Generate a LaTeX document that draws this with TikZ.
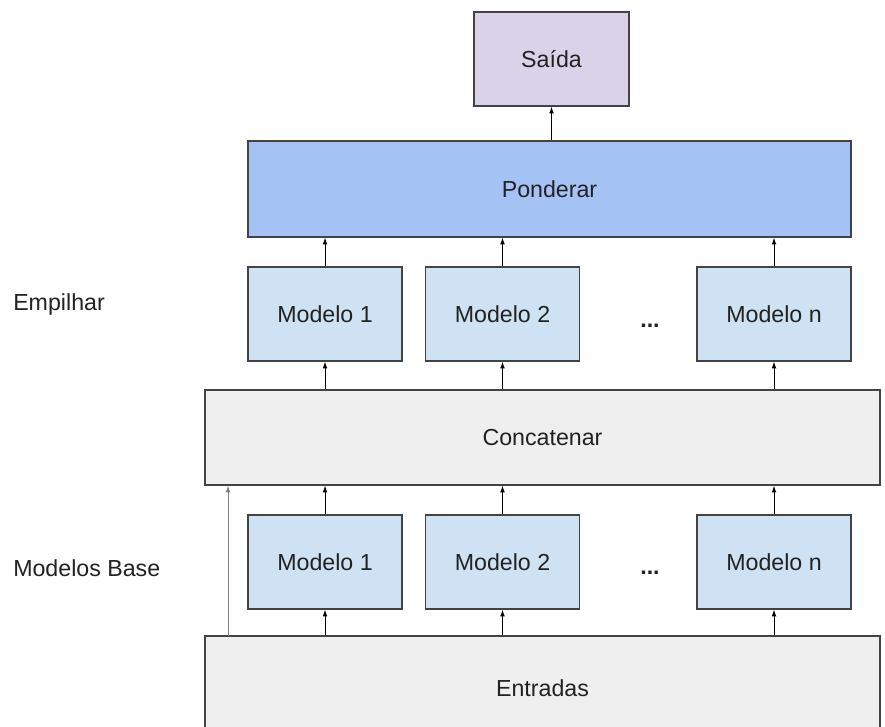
\documentclass[tikz,border=0pt]{standalone}
\usepackage{fontspec}
\setmainfont{Liberation Sans}
\usetikzlibrary{arrows.meta}
\definecolor{outfill}{HTML}{D9D2E9}
\definecolor{weighfill}{HTML}{A4C2F4}
\definecolor{modelfill}{HTML}{CFE2F3}
\definecolor{greyfill}{HTML}{EFEFEF}
\definecolor{edgegrey}{HTML}{434343}
\definecolor{textgrey}{HTML}{222222}
\tikzset{
    box/.style={draw=edgegrey, line width=0.9pt, inner sep=0pt, text=textgrey,
        font=\fontsize{17.4}{21}\selectfont},
    modelbox/.style={box, fill=modelfill, minimum width=115.5pt, minimum height=70.5pt},
    widebox/.style={box, fill=greyfill, minimum width=506.25pt},
    flow/.style={-{Latex[length=5pt,width=3.5pt]}, line width=0.7pt, black},
    sidelabel/.style={anchor=west, inner sep=0pt, text=textgrey, font=\fontsize{17.4}{21}\selectfont},
    dots/.style={inner sep=0pt, text=textgrey, font=\fontsize{17.4}{21}\selectfont\bfseries}
}
\begin{document}
\begin{tikzpicture}[x=0.75pt, y=-0.75pt]
                \useasboundingbox[fill=white] (0,0) rectangle (885,727);

                \node[box, fill=outfill, minimum width=116.25pt, minimum height=70.5pt] (out) at (551.5,59) {Saída};
                \node[box, fill=weighfill, minimum width=452.25pt, minimum height=72pt] (pond) at (549.5,189) {Ponderar};

                \node[modelbox] (t1) at (325,314)   {Modelo 1};
                \node[modelbox] (t2) at (502.5,314) {Modelo 2};
                \node[modelbox] (tn) at (774,314)   {Modelo n};
                \node[dots] (tdots) at (650,326) {...};

                \node[widebox, minimum height=71.25pt] (concat) at (542.5,437.5) {Concatenar};

                \node[modelbox] (b1) at (325,562)   {Modelo 1};
                \node[modelbox] (b2) at (502.5,562) {Modelo 2};
                \node[modelbox] (bn) at (774,562)   {Modelo n};
                \node[dots] (bdots) at (650,573) {...};

                \node[widebox, minimum height=78pt] (entr) at (542.5,688) {Entradas};

                \node[sidelabel] (stack) at (13,305) {Empilhar};
                \node[sidelabel] (base)  at (13,568) {Modelos Base};

                \coordinate (skip) at (228,636);

                \draw[flow] (out.south |- pond.north) -- (out.south);
                \draw[flow] (t1.north) -- (t1.north |- pond.south);
                \draw[flow] (t2.north) -- (t2.north |- pond.south);
                \draw[flow] (tn.north) -- (tn.north |- pond.south);
                \draw[flow] (t1.south |- concat.north) -- (t1.south);
                \draw[flow] (t2.south |- concat.north) -- (t2.south);
                \draw[flow] (tn.south |- concat.north) -- (tn.south);
                \draw[flow] (b1.north) -- (b1.north |- concat.south);
                \draw[flow] (b2.north) -- (b2.north |- concat.south);
                \draw[flow] (bn.north) -- (bn.north |- concat.south);
                \draw[flow] (b1.south |- entr.north) -- (b1.south);
                \draw[flow] (b2.south |- entr.north) -- (b2.south);
                \draw[flow] (bn.south |- entr.north) -- (bn.south);
                \draw[flow, draw=gray] (skip) -- (skip |- concat.south);
            \end{tikzpicture}
\end{document}
